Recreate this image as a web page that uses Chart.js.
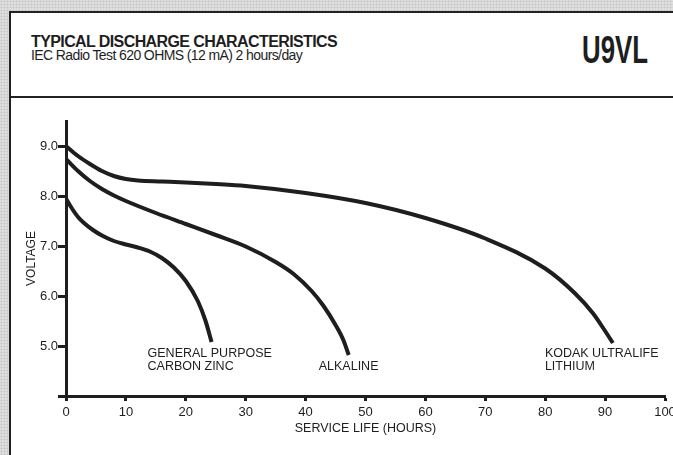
<!DOCTYPE html>
<html>
<head>
<meta charset="utf-8">
<script src="https://cdn.jsdelivr.net/npm/chart.js@4.4.0/dist/chart.umd.min.js"></script>
<style>
  html, body { margin: 0; padding: 0; }
  body {
    width: 673px;
    height: 455px;
    overflow: hidden;
    position: relative;
    background-color: #dedede;
    background-image: radial-gradient(#c2c2c2 0.8px, transparent 1.1px);
    background-size: 3px 3px;
    font-family: 'Liberation Sans', Arial, sans-serif;
    color: #1e1e1e;
  }
  .sheet {
    position: absolute; left: 9px; top: 11px; width: 720px; height: 500px;
    background: #fff; border: 2px solid #222; box-sizing: border-box;
  }
  .divider { position: absolute; left: 9px; top: 96px; width: 700px; height: 2px; background: #222; }
  .title {
    position: absolute; left: 31px; top: 34px; white-space: nowrap;
    font-size: 16px; line-height: 16px; font-weight: bold; letter-spacing: -0.6px;
  }
  .subtitle {
    position: absolute; left: 31px; top: 48px; white-space: nowrap;
    font-size: 14px; line-height: 14px; letter-spacing: -0.6px;
  }
  .model {
    position: absolute; left: 582px; top: 31px; white-space: nowrap;
    font-size: 38px; line-height: 38px; font-weight: bold;
    transform: scaleX(0.68); transform-origin: left top;
  }
  canvas { position: absolute; left: 0; top: 0; }
</style>
</head>
<body>
<div class="sheet"></div>
<div class="divider"></div>
<div class="title">TYPICAL DISCHARGE CHARACTERISTICS</div>
<div class="subtitle">IEC Radio Test 620 OHMS (12 mA) 2 hours/day</div>
<div class="model">U9VL</div>
<canvas id="chart" width="673" height="455"></canvas>
<script>
// service life (hours) / voltage
const carbonZinc = [
  [0, 7.95], [1, 7.75], [2, 7.58], [3, 7.46], [4.5, 7.32], [6, 7.21], [8, 7.1],
  [10, 7.03], [12, 6.97], [14, 6.89], [16, 6.76], [18, 6.57], [20, 6.3],
  [22, 5.9], [23.3, 5.5], [24.3, 5.08],
];
const alkaline = [
  [0, 8.74], [2, 8.5], [4, 8.3], [6, 8.14], [8, 8.01], [10, 7.9], [15, 7.66],
  [20, 7.44], [25, 7.22], [30, 6.99], [35, 6.68], [38, 6.44], [41, 6.1],
  [43, 5.8], [45, 5.42], [46.3, 5.12], [47.2, 4.82],
];
const lithium = [
  [0, 9.0], [2, 8.8], [4, 8.64], [6, 8.5], [8, 8.4], [10, 8.34], [12, 8.31],
  [16, 8.29], [20, 8.27], [25, 8.24], [30, 8.2], [40, 8.06], [50, 7.86],
  [60, 7.56], [70, 7.15], [80, 6.55], [85, 6.05], [88, 5.65], [90, 5.3], [91.3, 5.06],
];
const seriesNames = [
  ['GENERAL PURPOSE', 'CARBON ZINC'],
  ['ALKALINE'],
  ['KODAK ULTRALIFE', 'LITHIUM'],
];
const xTicks = [0, 10, 20, 30, 40, 50, 60, 70, 80, 90, 100];
const yTicks = [4, 5, 6, 7, 8, 9]; // 4 only gets a tick mark, no label

const ink = '#1e1e1e';
const font = "'Liberation Sans', Arial, sans-serif";

// label placement relative to the end of each curve
const labelOffsets = [
  { dx: -64, dy: 15 },
  { dx: -30, dy: 15 },
  { dx: -68, dy: 14 },
];

const curveLabels = {
  id: 'curveLabels',
  afterDatasetsDraw(chart) {
    const { ctx } = chart;
    ctx.save();
    ctx.fillStyle = ink;
    ctx.font = `12.5px ${font}`;
    ctx.textAlign = 'left';
    ctx.textBaseline = 'alphabetic';
    chart.data.datasets.forEach((ds, i) => {
      const pts = chart.getDatasetMeta(i).data;
      const end = pts[pts.length - 1];
      const off = labelOffsets[i];
      seriesNames[i].forEach((line, j) => {
        ctx.fillText(line, end.x + off.dx, end.y + off.dy + j * 13);
      });
    });
    ctx.restore();
  },
};

const toPoints = (arr) => arr.map(([x, y]) => ({ x, y }));

new Chart(document.getElementById('chart'), {
  type: 'line',
  data: {
    datasets: [carbonZinc, alkaline, lithium].map((d, i) => ({
      label: seriesNames[i].join(' '),
      data: toPoints(d),
      borderColor: ink,
      borderWidth: 4,
      pointRadius: 0,
      cubicInterpolationMode: 'monotone',
      fill: false,
    })),
  },
  options: {
    responsive: false,
    animation: false,
    layout: { padding: { top: 121, right: 8, bottom: 0, left: 0 } },
    plugins: { legend: { display: false }, tooltip: { enabled: false } },
    scales: {
      x: {
        type: 'linear',
        min: 0,
        max: 100,
        afterBuildTicks: (scale) => { scale.ticks = xTicks.map((v) => ({ value: v })); },
        afterFit: (scale) => { scale.height = 59; scale.paddingLeft = 0; scale.paddingRight = 0; },
        grid: { drawOnChartArea: false, drawTicks: true, tickLength: 5, tickWidth: 3, tickColor: ink },
        border: { display: true, width: 3, color: ink },
        ticks: { color: ink, font: { family: font, size: 13 }, padding: 4, maxRotation: 0 },
        title: {
          display: true, text: 'SERVICE LIFE (HOURS)', color: ink,
          font: { family: font, size: 12.5 }, padding: { top: 0, bottom: 19 },
        },
      },
      y: {
        type: 'linear',
        min: 4,
        max: 9.5,
        afterBuildTicks: (scale) => { scale.ticks = yTicks.map((v) => ({ value: v })); },
        afterFit: (scale) => { scale.width = 66; scale.paddingTop = 0; scale.paddingBottom = 0; },
        grid: { drawOnChartArea: false, drawTicks: true, tickLength: 8, tickWidth: 3, tickColor: ink },
        border: { display: true, width: 3, color: ink },
        ticks: {
          color: ink, font: { family: font, size: 13 }, padding: 0,
          callback: (v) => (v === 4 ? '' : v.toFixed(1)),
        },
        title: {
          display: true, text: 'VOLTAGE', color: ink,
          font: { family: font, size: 12 }, padding: { top: 24, bottom: 0 },
        },
      },
    },
  },
  plugins: [curveLabels],
});
</script>
</body>
</html>
